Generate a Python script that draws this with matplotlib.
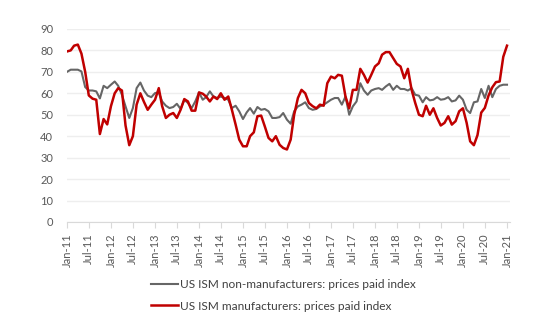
import numpy as np
import pandas as pd
import matplotlib
matplotlib.use("Agg")
import matplotlib.pyplot as plt
import matplotlib.dates as mdates

plt.rcParams['font.family'] = ['Lato', 'DejaVu Sans']

# monthly readings, Jan-2011 .. Jan-2021
non_manuf = [
    70, 71, 71, 71, 70.2, 62.9, 61.3, 61.3, 60.9, 57.6, 63.5, 62.4,      # 2011
    64, 65.5, 63.5, 59.3, 53.9, 48.5, 53.1, 62.4, 65, 61.3, 58.9, 58.2,  # 2012
    60.1, 60.4, 56.2, 54.2, 53.1, 53.6, 55.1, 52.7, 57, 55.5, 53.1, 56.2,
    60.4, 57, 58.2, 60.9, 58.5, 57.8, 58.5, 57.8, 57, 53.1, 54.2, 51.6,
    48, 51.1, 53.1, 50.5, 53.6, 52.3, 52.7, 51.6, 48.5, 48.5, 48.9, 50.8,
    47.7, 45.8, 51.6, 53.9, 54.7, 55.8, 53.1, 52.3, 52.7, 53.9, 54.7, 55.8,
    57, 57.8, 57.8, 54.7, 58.5, 50, 53.9, 56.2, 64.7, 61.3, 59.3, 61.3,
    62, 62.4, 61.6, 63.2, 64.4, 61.6, 63.5, 62, 62, 61.3, 62.4, 59.3,
    58.9, 55.8, 58.2, 56.7, 57, 58.2, 57, 57.3, 58.2, 56.2, 56.7, 58.9,
    57, 52.3, 50.8, 55.8, 56.2, 62, 57.8, 63.5, 58.2, 62, 63.5, 64,      # 2020
    64,                                                                    # Jan-21
]
manuf = [
    79.5, 80, 82.2, 82.7, 78.5, 70, 59, 57.5, 57, 41, 48, 45.5,
    54, 60, 62.4, 61.3, 45, 35.8, 40, 54.7, 60, 56, 52.3, 54.7,
    57, 62.4, 54, 48.5, 50, 50.8, 48.5, 52.3, 57.3, 56.2, 51.9, 51.9,
    60.4, 59.8, 58.5, 56.2, 58.5, 57.3, 60, 57, 58.5, 52.3, 45.4, 38.4,
    35.3, 35.3, 40, 41.8, 49.3, 49.6, 44.6, 39.2, 37.6, 40, 36, 34.5,
    33.8, 38.4, 50, 57.8, 61.6, 60, 55.5, 54, 53, 54.7, 54.2, 64.7,
    67.8, 67, 68.6, 68.2, 58.5, 53, 61.6, 61.6, 71.4, 68.6, 65, 68.6,
    72.5, 74, 78, 79.2, 79.2, 76.4, 73.7, 72.5, 67, 71.4, 61.6, 55.5,
    50, 49.3, 54.2, 50, 53, 48.5, 45, 46.2, 49.3, 45.4, 47, 51.6,
    53, 46.2, 37.6, 35.8, 40.5, 51, 53.2, 59, 62.8, 65.2, 65.5, 77,
    82.2,
]
dates = pd.date_range("2011-01-01", periods=len(manuf), freq="MS")

label_grey = "US ISM non-manufacturers: prices paid index"
label_red = "US ISM manufacturers: prices paid index"

fig = plt.figure(figsize=(5.5, 3.3), dpi=100)
ax = fig.add_axes([0.1218, 0.3273, 0.8055, 0.585])

ax.plot(dates, non_manuf, color="#666666", lw=1.5, label=label_grey)
ax.plot(dates, manuf, color="#c00000", lw=1.8, label=label_red)

ax.set_ylim(0, 90)
ax.set_yticks(range(0, 91, 10))
ax.set_xlim(dates[0], dates[-1] + pd.Timedelta(days=25))
ax.xaxis.set_major_locator(mdates.MonthLocator(bymonth=[1, 7]))
ax.xaxis.set_major_formatter(mdates.DateFormatter("%b-%y"))

ax.grid(axis="y", color="#eeeeee", lw=1)
ax.set_axisbelow(True)
for s in ["top", "right", "left"]:
    ax.spines[s].set_visible(False)
ax.spines["bottom"].set_color("#d9d9d9")
ax.tick_params(axis="y", length=0, pad=10, labelsize=8, labelcolor="#595959")
ax.tick_params(axis="x", length=4, color="#d9d9d9", pad=4, labelsize=8,
               labelcolor="#595959", labelrotation=90)

fig.legend(loc="upper left", bbox_to_anchor=(0.275, 0.155), frameon=False,
           fontsize=8.6, handlelength=2.2, handletextpad=0.2, labelspacing=0.9,
           labelcolor="#404040", borderaxespad=0, borderpad=0)

fig.savefig("out.png", dpi=100)
